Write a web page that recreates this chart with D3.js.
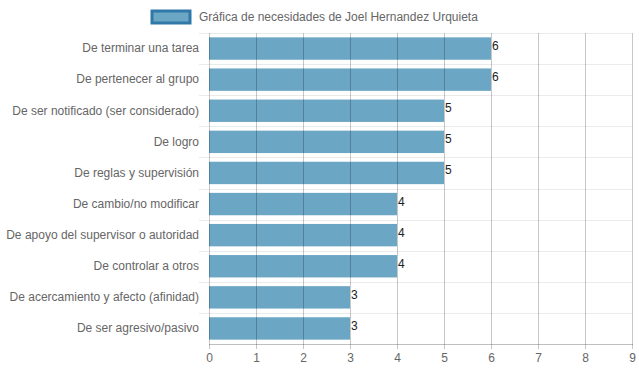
<!DOCTYPE html>
<html>
<head>
<meta charset="utf-8">
<script src="https://cdn.jsdelivr.net/npm/d3@7"></script>
<style>
  body { margin: 0; background: #fff; }
  svg text { font-family: "Liberation Sans", Arial, Helvetica, sans-serif; }
</style>
</head>
<body>
<div id="chart"></div>
<script>
// datos de la gráfica
const seriesName = 'Gráfica de necesidades de Joel Hernandez Urquieta';
const categories = [
  'De terminar una tarea',
  'De pertenecer al grupo',
  'De ser notificado (ser considerado)',
  'De logro',
  'De reglas y supervisión',
  'De cambio/no modificar',
  'De apoyo del supervisor o autoridad',
  'De controlar a otros',
  'De acercamiento y afecto (afinidad)',
  'De ser agresivo/pasivo'
];
const values = [6, 6, 5, 5, 5, 4, 4, 4, 3, 3];
const xTicks = [0, 1, 2, 3, 4, 5, 6, 7, 8, 9];

const W = 639, H = 372;
const margin = { top: 33, right: 7, bottom: 28, left: 209 };

const svg = d3.select('#chart')
  .append('svg')
  .attr('width', W)
  .attr('height', H);

// Scales
const x = d3.scaleLinear()
  .domain([0, 9])
  .range([margin.left, W - margin.right]);

const y = d3.scaleBand()
  .domain(categories)
  .range([margin.top, H - margin.bottom]);

const barH = y.bandwidth() * 0.72;
const barOff = (y.bandwidth() - barH) / 2;

// horizontal grid (category boundaries)
const bounds = categories.map(c => y(c)).concat([y.range()[1]]);
svg.append('g')
  .selectAll('line')
  .data(bounds.slice(0, -1))
  .enter()
  .append('line')
  .attr('x1', margin.left - 10)
  .attr('x2', x(9))
  .attr('y1', d => Math.round(d) + 0.5)
  .attr('y2', d => Math.round(d) + 0.5)
  .attr('stroke', 'rgba(0,0,0,0.08)')
  .attr('stroke-width', 1);

// Bars
svg.append('g')
  .selectAll('rect')
  .data(values)
  .enter()
  .append('rect')
  .attr('x', x(0))
  .attr('y', (d, i) => y(categories[i]) + barOff)
  .attr('width', d => x(d) - x(0))
  .attr('height', barH)
  .attr('fill', '#6ba6c4');

// vertical grid, drawn over the bars
svg.append('g')
  .selectAll('line')
  .data(xTicks)
  .enter()
  .append('line')
  .attr('x1', d => Math.round(x(d)) + 0.5)
  .attr('x2', d => Math.round(x(d)) + 0.5)
  .attr('y1', margin.top)
  .attr('y2', H - margin.bottom + 5)
  .attr('stroke', 'rgba(0,0,0,0.22)')
  .attr('stroke-width', 1);

// x axis line
svg.append('line')
  .attr('x1', x(0))
  .attr('x2', x(9) + 1)
  .attr('y1', H - margin.bottom + 0.5)
  .attr('y2', H - margin.bottom + 0.5)
  .attr('stroke', 'rgba(0,0,0,0.25)');

// Axes
const xAxis = svg.append('g')
  .attr('transform', `translate(0,${H - margin.bottom})`)
  .call(d3.axisBottom(x).tickValues(xTicks).tickFormat(d3.format('d')).tickSize(5).tickPadding(4.5));
xAxis.select('.domain').remove();
xAxis.selectAll('line').remove();
xAxis.selectAll('text').attr('fill', '#666').attr('font-size', 12)
  .attr('font-family', '"Liberation Sans", Arial, sans-serif');

const yAxis = svg.append('g')
  .attr('transform', `translate(${margin.left},0)`)
  .call(d3.axisLeft(y).tickSize(0).tickPadding(10));
yAxis.select('.domain').remove();
yAxis.selectAll('text').attr('fill', '#666').attr('font-size', 12)
  .attr('font-family', '"Liberation Sans", Arial, sans-serif');

// value labels at the bar ends
svg.append('g')
  .selectAll('text')
  .data(values)
  .enter()
  .append('text')
  .attr('x', d => x(d) + 1)
  .attr('y', (d, i) => y(categories[i]) + y.bandwidth() / 2 + 1.5)
  .attr('font-size', 12)
  .attr('font-family', '"DejaVu Sans", sans-serif')
  .attr('fill', '#222')
  .text(d => d);

// Legend
const legend = svg.append('g');
legend.append('rect')
  .attr('x', 152)
  .attr('y', 11)
  .attr('width', 38)
  .attr('height', 12)
  .attr('fill', '#6ba6c4')
  .attr('stroke', '#3078a8')
  .attr('stroke-width', 3);
legend.append('text')
  .attr('x', 199)
  .attr('y', 17)
  .attr('dy', '0.35em')
  .attr('font-size', 12)
  .attr('fill', '#666')
  .text(seriesName);
</script>
</body>
</html>
